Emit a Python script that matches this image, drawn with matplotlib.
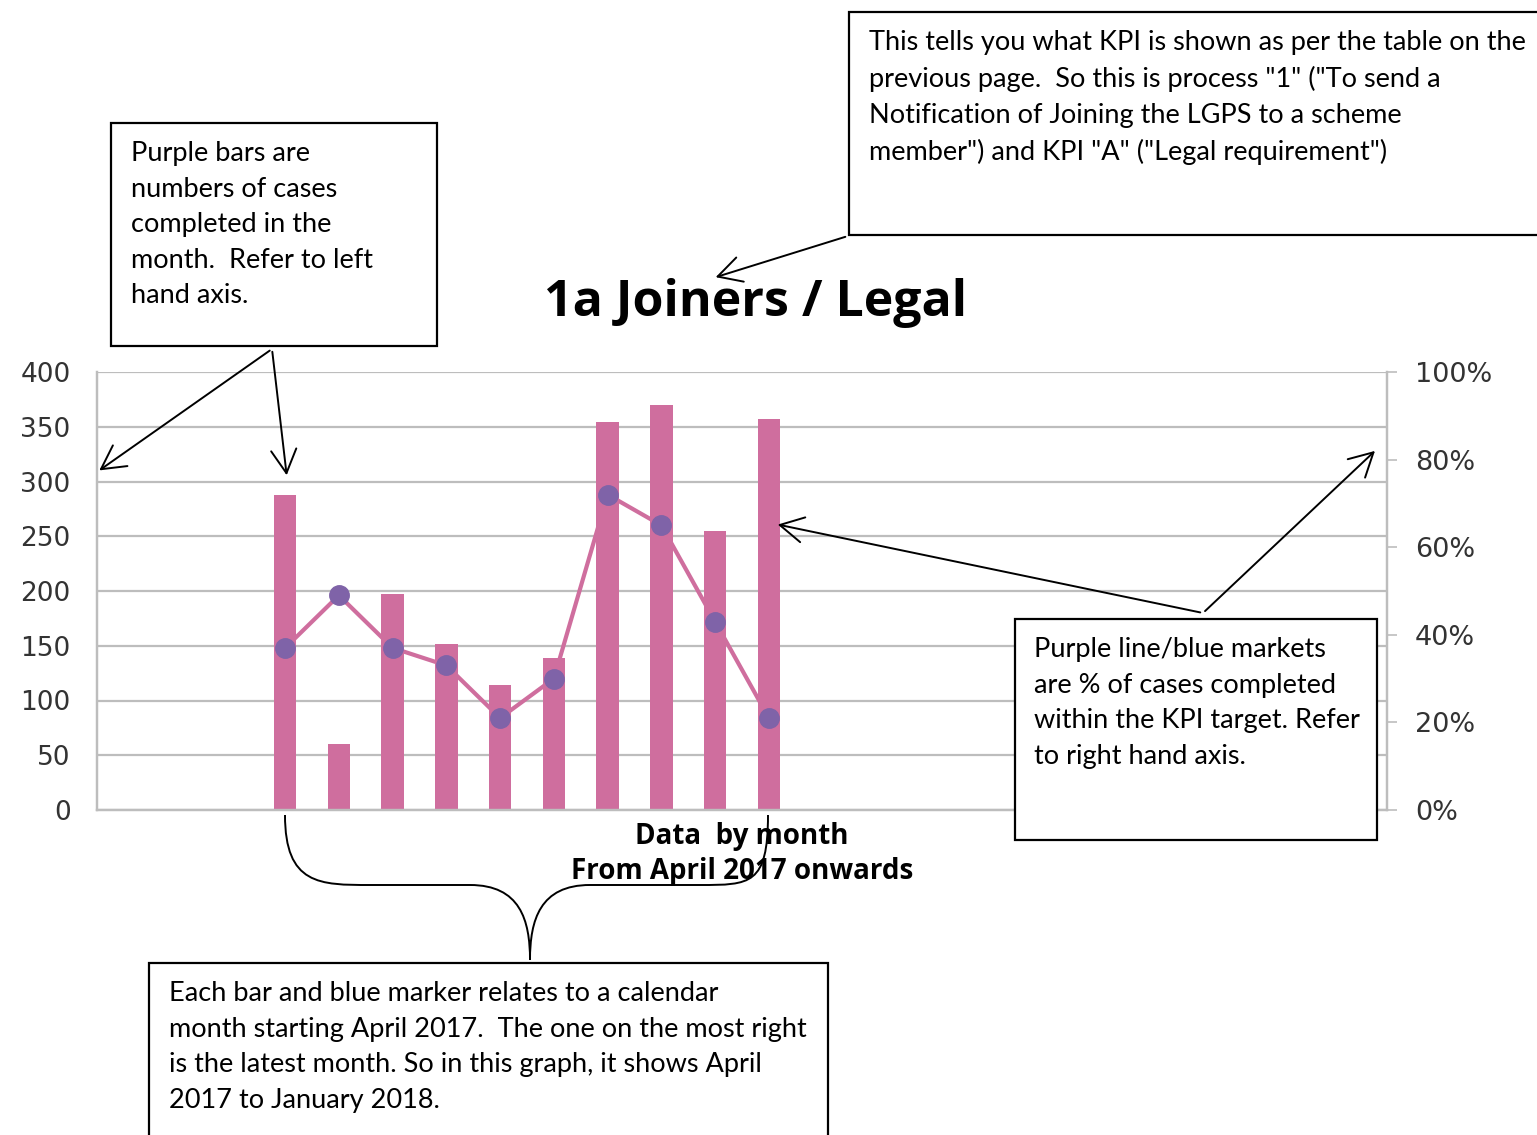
import matplotlib.pyplot as plt
import matplotlib.patches as mpatches
from matplotlib.path import Path
import numpy as np

W, H = 1537, 1135

# monthly figures, April 2017 - January 2018
months = ["Apr 17", "May 17", "Jun 17", "Jul 17", "Aug 17", "Sep 17",
          "Oct 17", "Nov 17", "Dec 17", "Jan 18"]
cases = [288, 60, 197, 152, 114, 139, 354, 370, 255, 357]
pct_in_target = [37, 49, 37, 33, 21, 30, 72, 65, 43, 21]
first_slot = 3
n_slots = 24

left_ticks = [0, 50, 100, 150, 200, 250, 300, 350, 400]
right_ticks = [0, 20, 40, 60, 80, 100]

BAR = "#cf6e9e"
DOT = "#7f63a8"
GRID = "#bdbdbd"


def fx(x):
    return x / W


def fy(y):
    return 1 - y / H


fig = plt.figure(figsize=(W / 100, H / 100), dpi=100)
ax = fig.add_axes([fx(97), fy(810), fx(1387) - fx(97), fy(372) - fy(810)])
ax2 = ax.twinx()

x = np.arange(len(months)) + first_slot
ax.bar(x, cases, width=0.42, color=BAR, zorder=2)
ax.set_xlim(-0.5, n_slots - 0.5)
ax.set_ylim(0, 400)
ax.set_yticks(left_ticks)
ax.set_yticklabels([str(t) for t in left_ticks], fontsize=19, color="#333333")
ax.tick_params(axis="y", length=0, pad=19)
ax.set_xticks([])
ax.yaxis.grid(True, color=GRID, linewidth=1.6, zorder=0)
ax.set_axisbelow(True)

ax2.plot(x, pct_in_target, color=BAR, linewidth=3, zorder=3,
         marker="o", markersize=14, markerfacecolor=DOT, markeredgecolor=DOT)
ax2.set_ylim(0, 100)
ax2.set_yticks(right_ticks)
ax2.set_yticklabels([f"{t}%" for t in right_ticks], fontsize=19.5, color="#333333")
ax2.tick_params(axis="y", length=7, width=1.2, color=GRID, pad=13)

for a in (ax, ax2):
    a.spines["top"].set_visible(False)
    for side in ("left", "right", "bottom"):
        a.spines[side].set_color(GRID)
        a.spines[side].set_linewidth(1.6)

fig.text(fx(755), fy(303), "1a Joiners / Legal", ha="center", va="center",
         fontsize=36, fontweight="bold", family="Open Sans")
fig.text(fx(742), fy(854), "Data  by month\nFrom April 2017 onwards", ha="center",
         va="center", fontsize=20, fontweight="bold", family="Open Sans",
         linespacing=1.3)

# annotation boxes
boxes = [
    ((111, 123, 437, 346), (131, 151),
     "Purple bars are\nnumbers of cases\ncompleted in the\nmonth.  Refer to left\nhand axis."),
    ((849, 12, 1560, 235), (869, 40),
     "This tells you what KPI is shown as per the table on the\n"
     "previous page.  So this is process \"1\" (\"To send a\n"
     "Notification of Joining the LGPS to a scheme\n"
     "member\") and KPI \"A\" (\"Legal requirement\")"),
    ((1015, 619, 1377, 840), (1034, 647),
     "Purple line/blue markets\nare % of cases completed\nwithin the KPI target. Refer\nto right hand axis."),
    ((149, 963, 828, 1160), (169, 991),
     "Each bar and blue marker relates to a calendar\n"
     "month starting April 2017.  The one on the most right\n"
     "is the latest month. So in this graph, it shows April\n"
     "2017 to January 2018."),
]
for (x0, y0, x1, y1), (tx, ty), txt in boxes:
    fig.patches.append(mpatches.Rectangle((fx(x0), fy(y1)), fx(x1) - fx(x0),
                                          fy(y0) - fy(y1), transform=fig.transFigure,
                                          fill=True, facecolor="white",
                                          edgecolor="black", linewidth=1.6, zorder=5))
    fig.text(fx(tx), fy(ty - 10), txt, ha="left", va="top", fontsize=19.5,
             family="Lato", linespacing=1.53, zorder=6)

# arrows
arrows = [
    ((272, 349), (97, 472)),
    ((272, 349), (287, 478)),
    ((848, 236), (713, 278)),
    ((1203, 613), (775, 524)),
    ((1203, 613), (1377, 449)),
]
for (x0, y0), (x1, y1) in arrows:
    fig.patches.append(mpatches.FancyArrowPatch(
        (fx(x0), fy(y0)), (fx(x1), fy(y1)), transform=fig.transFigure,
        arrowstyle="->,head_length=13,head_width=7", mutation_scale=1.3,
        color="black", linewidth=1.4, zorder=7))

# curly brace under the bars
brace = [
    (285, 815), (285, 885), (320, 885), (370, 885),
    (470, 885), (470, 885), (470, 885),
    (520, 885), (530, 920), (530, 960),
    (530, 920), (540, 885), (590, 885),
    (590, 885), (590, 885), (700, 885),
    (750, 885), (768, 885), (768, 815),
]
codes = [Path.MOVETO] + [Path.CURVE4] * 18
verts = [(fx(a), fy(b)) for a, b in brace]
fig.patches.append(mpatches.PathPatch(Path(verts, codes), transform=fig.transFigure,
                                      fill=False, edgecolor="black", linewidth=1.4,
                                      zorder=7))

fig.savefig("out.png", dpi=100)
